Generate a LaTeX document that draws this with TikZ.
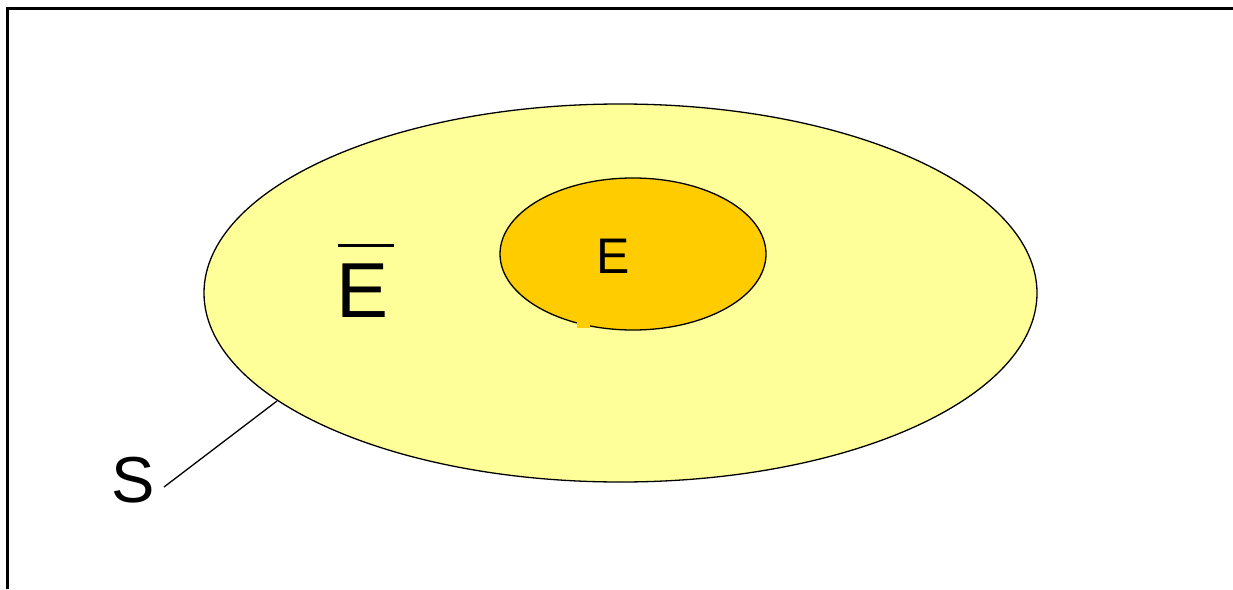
\documentclass[tikz,border=0pt]{standalone}
\usepackage{fontspec}
\setmainfont{Liberation Sans}
\definecolor{paleyellow}{HTML}{FFFF99}
\definecolor{gold}{HTML}{FFCC00}
\begin{document}
\begin{tikzpicture}[x=1pt,y=-1pt,
  setshape/.style={draw=black,line width=1.3pt},
  lbl/.style={inner sep=0pt,text=black}]
\useasboundingbox (0,0) rectangle (1233,589);
\fill[white] (0,0) rectangle (1233,589);
% frame
\draw[line width=3pt] (7,589) -- (7,8) -- (1233,8);
% sets
\draw[setshape,fill=paleyellow] (620.5,293) ellipse [x radius=416.5, y radius=189];
\draw[setshape,fill=gold] (633,254) ellipse [x radius=133, y radius=76];
\fill[gold] (577,318) rectangle (590,328);
% labels
\node[lbl,font=\fontsize{50}{60}\selectfont] (E) at (613,256) {E};
\node[lbl,font=\fontsize{78}{94}\selectfont] (Ebar) at (363,290.5) {E};
\draw[line width=2.8pt] ([xshift=1pt,yshift=18pt]Ebar.north west) -- ([xshift=5pt,yshift=18pt]Ebar.north east);
\node[lbl,font=\fontsize{65}{78}\selectfont] (S) at (133,480) {S};
\coordinate (Stouch) at (277,401);
\draw[line width=1.3pt] (164,487) -- (Stouch);
\end{tikzpicture}
\end{document}
